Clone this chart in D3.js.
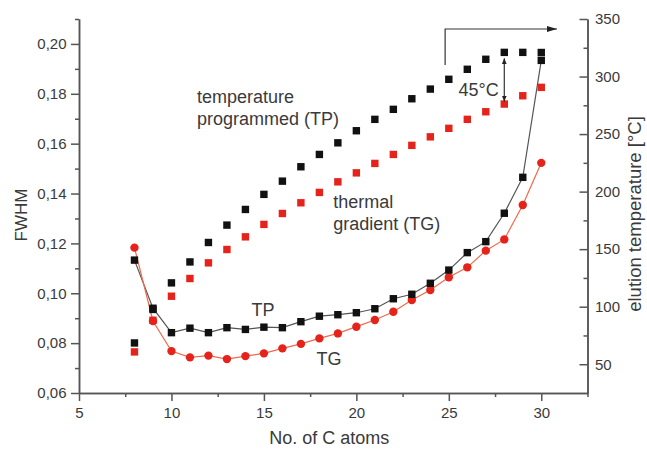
<!DOCTYPE html>
<html>
<head>
<meta charset="utf-8">
<script src="https://cdn.jsdelivr.net/npm/d3@7"></script>
<style>
body { margin: 0; background: #fff; }
text { font-family: "Liberation Sans", Arial, sans-serif; }
</style>
</head>
<body>
<div class="canva"></div>
<script>
// chain length (no. of C atoms)
const carbons = [8, 9, 10, 11, 12, 13, 14, 15, 16, 17, 18, 19, 20, 21, 22, 23, 24, 25, 26, 27, 28, 29, 30];

// peak width, left axis
const fwhmTP = [0.1133, 0.0940, 0.0842, 0.0860, 0.0842, 0.0862, 0.0855, 0.0864, 0.0862, 0.0886, 0.0908, 0.0914,
    0.0922, 0.0938, 0.0978, 0.0996, 0.1040, 0.1093, 0.1163, 0.1207, 0.1321, 0.1465, 0.1934];
const fwhmTG = [0.1183, 0.0889, 0.0768, 0.0743, 0.0750, 0.0736, 0.0748, 0.0759, 0.0779, 0.0797, 0.0819, 0.0839,
    0.0866, 0.0893, 0.0926, 0.0973, 0.1013, 0.1064, 0.1104, 0.1171, 0.1216, 0.1354, 0.1523];

// elution temperature, right axis
const tempTP = [68.5, 97.6, 120.7, 138.9, 155.8, 170.9, 184.5, 197.6, 209.1, 221.6, 232.3, 242.4,
    252.9, 262.8, 271.5, 280.7, 289.1, 297.6, 306.3, 315.0, 321.0, 321.0, 320.9];
const tempTG = [60.7, 88.2, 109.1, 124.5, 138.1, 149.7, 160.7, 171.5, 181.0, 190.3, 199.3, 208.5,
    216.3, 224.5, 232.3, 240.2, 247.6, 255.0, 262.8, 269.4, 276.1, 283.3, 290.6];

const xTicks = [5, 10, 15, 20, 25, 30];
const xMinor = [7.5, 12.5, 17.5, 22.5, 27.5, 32.5];
const fwhmTicks = [0.06, 0.08, 0.10, 0.12, 0.14, 0.16, 0.18, 0.20];
const fwhmMinor = [0.07, 0.09, 0.11, 0.13, 0.15, 0.17, 0.19, 0.21];
const tempTicks = [50, 100, 150, 200, 250, 300, 350];
const tempMinor = [75, 125, 175, 225, 275, 325];

const width = 647, height = 449;
const axisColor = "#555";
const red = "#e5231b";

const svg = d3.select(".canva").append("svg")
    .attr("width", width)
    .attr("height", height);

const x = d3.scaleLinear().domain([5, 32.5]).range([79, 587.5]);
const yL = d3.scaleLinear().domain([0.06, 0.21]).range([393, 19]);
const yR = d3.scaleLinear().domain([25, 350]).range([393, 19]);

const commaFmt = d3.formatLocale({ decimal: ",", thousands: ".", grouping: [3], currency: ["", ""] }).format(".2f");

function styleAxis(g) {
    g.select(".domain").attr("stroke", axisColor).attr("stroke-width", 1.5);
    g.selectAll(".tick line").attr("stroke", axisColor).attr("stroke-width", 1.5);
    g.selectAll(".tick text").attr("fill", "#3a3a3a").style("font-size", "15px")
        .style("font-family", "'Liberation Sans', Arial, sans-serif");
}

// bottom axis
svg.append("g").attr("transform", "translate(0,393)")
    .call(d3.axisBottom(x).tickValues(xMinor).tickSize(4).tickSizeOuter(0).tickFormat(""))
    .call(styleAxis);
svg.append("g").attr("transform", "translate(0,393)")
    .call(d3.axisBottom(x).tickValues(xTicks).tickSize(8).tickPadding(6).tickSizeOuter(0))
    .call(styleAxis);

// left axis
svg.append("g").attr("transform", "translate(79,0)")
    .call(d3.axisLeft(yL).tickValues(fwhmMinor).tickSize(4).tickSizeOuter(0).tickFormat(""))
    .call(styleAxis);
svg.append("g").attr("transform", "translate(79,0)")
    .call(d3.axisLeft(yL).tickValues(fwhmTicks).tickSize(8).tickPadding(4.5).tickSizeOuter(0).tickFormat(commaFmt))
    .call(styleAxis);

// right axis, ticks point inward
svg.append("g").attr("transform", "translate(587.5,0)")
    .call(d3.axisRight(yR).tickValues(tempMinor).tickSize(-4).tickSizeOuter(0).tickFormat(""))
    .call(styleAxis);
svg.append("g").attr("transform", "translate(587.5,0)")
    .call(d3.axisRight(yR).tickValues(tempTicks).tickSize(-8).tickPadding(7.5).tickSizeOuter(0))
    .call(styleAxis);

// axis titles
svg.append("text")
    .attr("x", (x(5) + x(32.5)) / 2 - 4)
    .attr("y", 444)
    .attr("text-anchor", "middle")
    .attr("fill", "#3a3a3a")
    .style("font-size", "18px")
    .text("No. of C atoms");

svg.append("text")
    .attr("transform", "translate(26.5," + 215 + ") rotate(-90)")
    .attr("text-anchor", "middle")
    .attr("fill", "#3a3a3a")
    .style("font-size", "17px")
    .text("FWHM");

svg.append("text")
    .attr("transform", "translate(641," + 214 + ") rotate(-90)")
    .attr("text-anchor", "middle")
    .attr("fill", "#3a3a3a")
    .style("font-size", "18.5px")
    .text("elution temperature [°C]");

// connecting lines of the FWHM series
const lineTP = d3.line().x((d, i) => x(carbons[i])).y(d => yL(d));
svg.append("path")
    .attr("d", lineTP(fwhmTP))
    .attr("fill", "none")
    .attr("stroke", "#555")
    .attr("stroke-width", 1.2);

svg.append("path")
    .attr("d", lineTP(fwhmTG))
    .attr("fill", "none")
    .attr("stroke", "#ee6a4c")
    .attr("stroke-width", 1.2);

const sq = 7.4;

// elution temperature squares
svg.append("g").selectAll("rect")
    .data(tempTG)
    .join("rect")
    .attr("x", (d, i) => x(carbons[i]) - sq / 2)
    .attr("y", d => yR(d) - sq / 2)
    .attr("width", sq)
    .attr("height", sq)
    .attr("fill", red);

svg.append("g").selectAll("rect")
    .data(tempTP)
    .join("rect")
    .attr("x", (d, i) => x(carbons[i]) - sq / 2)
    .attr("y", d => yR(d) - sq / 2)
    .attr("width", sq)
    .attr("height", sq)
    .attr("fill", "#111");

// FWHM markers
svg.append("g").selectAll("circle")
    .data(fwhmTG)
    .join("circle")
    .attr("cx", (d, i) => x(carbons[i]))
    .attr("cy", d => yL(d))
    .attr("r", 4.2)
    .attr("fill", red);

svg.append("g").selectAll("rect")
    .data(fwhmTP)
    .join("rect")
    .attr("x", (d, i) => x(carbons[i]) - sq / 2)
    .attr("y", d => yL(d) - sq / 2)
    .attr("width", sq)
    .attr("height", sq)
    .attr("fill", "#111");

// arrows
const defs = svg.append("defs");
defs.append("marker")
    .attr("id", "head")
    .attr("viewBox", "0 0 10 6")
    .attr("refX", 10).attr("refY", 3)
    .attr("markerWidth", 10).attr("markerHeight", 6)
    .attr("markerUnits", "userSpaceOnUse")
    .attr("orient", "auto")
    .append("path").attr("d", "M0,0 L10,3 L0,6 Z").attr("fill", "#222");
defs.append("marker")
    .attr("id", "small")
    .attr("viewBox", "0 0 6 5")
    .attr("refX", 6).attr("refY", 2.5)
    .attr("markerWidth", 6).attr("markerHeight", 5)
    .attr("markerUnits", "userSpaceOnUse")
    .attr("orient", "auto-start-reverse")
    .append("path").attr("d", "M0,0 L6,2.5 L0,5 Z").attr("fill", "#222");

// step arrow: (C atoms, °C)
const stepArrow = [[24.8, 310], [24.8, 341.3], [30.85, 341.3]];
svg.append("path")
    .attr("d", d3.line().x(d => x(d[0])).y(d => yR(d[1]))(stepArrow))
    .attr("fill", "none")
    .attr("stroke", "#333")
    .attr("stroke-width", 1.2)
    .attr("marker-end", "url(#head)");

// 45 °C gap at C28
const gapIdx = carbons.indexOf(28);
svg.append("line")
    .attr("x1", x(28)).attr("x2", x(28))
    .attr("y1", yR(tempTP[gapIdx]) + 6)
    .attr("y2", yR(tempTG[gapIdx]) - 2.5)
    .attr("stroke", "#333")
    .attr("stroke-width", 1.2)
    .attr("marker-start", "url(#small)")
    .attr("marker-end", "url(#small)");

// text annotations: (C atoms, FWHM)
const notes = [
    { t: "temperature", c: 11.38, v: 0.1762 },
    { t: "programmed (TP)", c: 11.38, v: 0.1673 },
    { t: "thermal", c: 18.75, v: 0.1341 },
    { t: "gradient (TG)", c: 18.75, v: 0.1253 },
    { t: "TP", c: 14.33, v: 0.0908 },
    { t: "TG", c: 17.84, v: 0.0711 },
    { t: "45°C", c: 25.52, v: 0.1793 }
];
svg.append("g").selectAll("text")
    .data(notes)
    .join("text")
    .attr("x", d => x(d.c))
    .attr("y", d => yL(d.v))
    .attr("fill", "#3a3a3a")
    .style("font-size", "18px")
    .text(d => d.t);
</script>
</body>
</html>
